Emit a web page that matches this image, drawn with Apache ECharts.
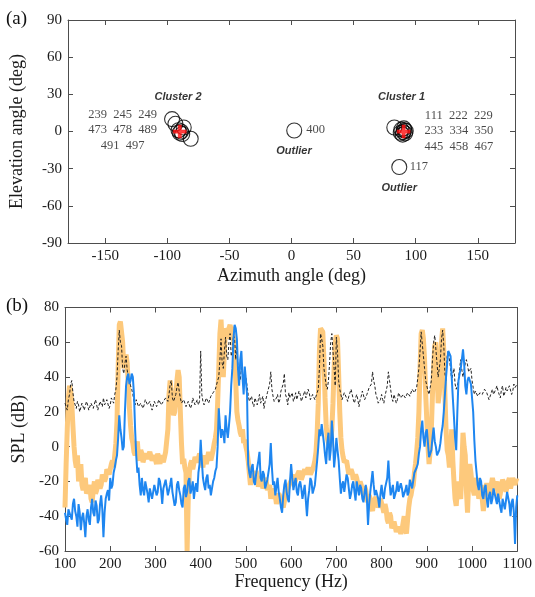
<!DOCTYPE html>
<html>
<head>
<meta charset="utf-8">
<script src="https://cdn.jsdelivr.net/npm/echarts@6/dist/echarts.min.js"></script>
<style>
  html, body { margin: 0; padding: 0; background: #fff; }
  #chart { width: 535px; height: 597px; }
</style>
</head>
<body>
<div id="chart"></div>
<script>
// ---------- (a) source directions ----------
const cluster1Points = [[82.8, 3.2], [88.5, 1.5], [90.5, 2.5], [91.5, -1.5], [89.5, -2.5], [92.0, 0.5], [90.0, -0.5], [88.0, -1.0], [91.0, 1.0]];
const cluster2Points = [[-96.2, 10.0], [-93.5, 6.2], [-91.0, 1.0], [-90.0, -1.0], [-88.0, -2.0], [-86.8, 3.2], [-89.0, 0.0], [-81.2, -5.9]];
const outlierPoints = [[2.2, 0.8], [86.8, -28.7]];
const clusterCentres = [[-90.0, 0.0], [90.3, 0.0]];

const clusterNames = ['Cluster 2', 'Cluster 1', 'Outlier', 'Outlier'];
const clusterNamePos = [[-91.4, 28.2], [88.6, 28.0], [2.0, -16.0], [86.8, -45.6]];
const memberLists = ['239  245  249\n473  478  489\n491  497', '111  222  229\n233  334  350\n445  458  467', '400', '117'];
const memberListPos = [[-136, 1.4], [134.7, 0.5], [19.5, 1.4], [102.5, -28.5]];

const azimuthTicks = [-150, -100, -50, 0, 50, 100, 150];

// ---------- (b) spectra, 100-1100 Hz ----------
const freqHz = [
  100,102.5,105,107.5,110,112.5,115,117.5,120,122.5,125,127.5,130,132.5,135,137.5,140,142.5,145,147.5,
  150,152.5,155,157.5,160,162.5,165,167.5,170,172.5,175,177.5,180,182.5,185,187.5,190,192.5,195,197.5,
  200,202.5,205,207.5,210,212.5,215,217.5,220,222.5,225,227.5,230,232.5,235,237.5,240,242.5,245,247.5,
  250,252.5,255,257.5,260,262.5,265,267.5,270,272.5,275,277.5,280,282.5,285,287.5,290,292.5,295,297.5,
  300,302.5,305,307.5,310,312.5,315,317.5,320,322.5,325,327.5,330,332.5,335,337.5,340,342.5,345,347.5,
  350,352.5,355,357.5,360,362.5,365,367.5,370,372.5,375,377.5,380,382.5,385,387.5,390,392.5,395,397.5,
  400,402.5,405,407.5,410,412.5,415,417.5,420,422.5,425,427.5,430,432.5,435,437.5,440,442.5,445,447.5,
  450,452.5,455,457.5,460,462.5,465,467.5,470,472.5,475,477.5,480,482.5,485,487.5,490,492.5,495,497.5,
  500,502.5,505,507.5,510,512.5,515,517.5,520,522.5,525,527.5,530,532.5,535,537.5,540,542.5,545,547.5,
  550,552.5,555,557.5,560,562.5,565,567.5,570,572.5,575,577.5,580,582.5,585,587.5,590,592.5,595,597.5,
  600,602.5,605,607.5,610,612.5,615,617.5,620,622.5,625,627.5,630,632.5,635,637.5,640,642.5,645,647.5,
  650,652.5,655,657.5,660,662.5,665,667.5,670,672.5,675,677.5,680,682.5,685,687.5,690,692.5,695,697.5,
  700,702.5,705,707.5,710,712.5,715,717.5,720,722.5,725,727.5,730,732.5,735,737.5,740,742.5,745,747.5,
  750,752.5,755,757.5,760,762.5,765,767.5,770,772.5,775,777.5,780,782.5,785,787.5,790,792.5,795,797.5,
  800,802.5,805,807.5,810,812.5,815,817.5,820,822.5,825,827.5,830,832.5,835,837.5,840,842.5,845,847.5,
  850,852.5,855,857.5,860,862.5,865,867.5,870,872.5,875,877.5,880,882.5,885,887.5,890,892.5,895,897.5,
  900,902.5,905,907.5,910,912.5,915,917.5,920,922.5,925,927.5,930,932.5,935,937.5,940,942.5,945,947.5,
  950,952.5,955,957.5,960,962.5,965,967.5,970,972.5,975,977.5,980,982.5,985,987.5,990,992.5,995,997.5,
  1000,1002.5,1005,1007.5,1010,1012.5,1015,1017.5,1020,1022.5,1025,1027.5,1030,1032.5,1035,1037.5,1040,1042.5,1045,1047.5,
  1050,1052.5,1055,1057.5,1060,1062.5,1065,1067.5,1070,1072.5,1075,1077.5,1080,1082.5,1085,1087.5,1090,1092.5,1095,1097.5,
  1100
];

// background noise level (dashed)
const splBackground = [
  25,23,21,27,30,36,38,31,26,24,22,26,24,20,21,25,25,21,22,26,
  24,21,20,25,25,22,23,27,27,21,22,26,25,23,28,24,23,27,26,22,
  24,28,27,25,30,33,40,55,67,60,58,45,42,48,52,44,40,38,35,33,
  30,26,24,27,27,23,22,25,26,22,24,27,27,24,23,26,25,21,22,26,
  26,23,24,27,27,24,23,26,25,28,28,26,30,36,38,28,26,27,30,34,
  37,32,28,25,24,27,27,23,23,26,26,22,24,28,27,24,25,27,24,26,
  55,30,26,24,24,28,28,25,25,29,29,31,30,33,34,38,40,50,62,48,
  45,55,63,52,50,60,65,52,55,64,62,50,58,45,40,38,46,42,38,44,
  44,35,30,26,27,29,25,23,28,26,24,27,30,25,26,29,22,26,28,31,
  32,36,43,33,29,26,25,28,30,25,27,32,33,36,42,30,28,24,31,28,
  29,31,26,28,31,27,28,32,30,26,27,30,32,28,29,33,31,27,28,30,
  30,27,29,31,33,45,65,62,58,45,40,35,33,38,48,60,65,55,45,35,
  63,55,38,33,30,27,28,31,31,28,26,29,29,33,32,27,25,28,30,27,
  23,27,29,32,31,27,26,30,30,34,33,36,43,38,35,30,28,25,24,27,
  30,27,25,29,29,35,43,38,33,28,26,30,29,25,27,31,31,28,28,30,
  30,28,29,31,32,29,30,33,33,31,31,34,35,45,55,66,66,52,45,38,
  35,32,30,34,38,50,60,64,64,48,40,45,50,62,67,58,42,38,52,55,
  55,45,38,42,45,36,33,35,38,45,50,44,40,44,48,50,47,43,42,45,
  38,34,30,32,33,29,28,31,32,30,29,33,34,31,30,27,28,31,33,30,
  31,33,35,32,30,28,33,35,29,31,34,32,31,35,35,30,32,36,34,33,
  36
];

// thick orange spectrum
const splOrange = [
  -35,-10,10,28,35,32,25,12,0,-8,-12,-5,-20,-15,-10,-22,-25,-20,-18,-27,
  -28,-24,-22,-30,-32,-25,-20,-27,-25,-19,-18,-24,-22,-16,-15,-20,-18,-13,-12,-16,
  -15,-10,-8,-12,-5,2,15,45,70,72,72,60,45,50,53,48,35,22,12,5,
  2,-3,-5,0,3,-6,-8,-2,-4,-9,-10,-4,-5,-7,-8,-3,-3,-8,-9,-5,
  -6,-10,-4,-7,-10,-5,-5,-9,-8,-3,-2,10,30,38,38,25,18,20,28,38,
  44,40,20,2,-10,-7,-12,-15,-60,-30,-15,-10,-8,-13,-12,-6,-5,-9,-10,-4,
  -3,-8,-12,-5,-6,-10,-9,-3,-4,-8,-7,-2,2,5,10,25,45,65,73,60,
  40,55,68,66,62,68,70,66,69,62,55,38,20,15,12,8,6,10,2,4,
  0,-3,-8,-15,-22,-18,-15,-20,-20,-14,-18,-23,-23,-17,-19,-24,-22,-18,-20,-25,
  -25,-22,-30,-27,-24,-30,-28,-33,-33,-27,-26,-30,-30,-35,-34,-28,-28,-24,-24,-21,
  -20,-18,-16,-21,-22,-17,-18,-14,-15,-19,-20,-15,-13,-16,-17,-12,-12,-16,-15,-13,
  -11,-8,-3,8,25,55,68,68,66,50,28,12,5,2,0,3,10,25,45,60,
  64,62,42,20,5,-2,-6,-9,-10,-8,-12,-16,-17,-13,-15,-19,-20,-16,-18,-22,
  -24,-20,-22,-26,-28,-23,-25,-30,-32,-28,-30,-35,-37,-32,-33,-29,-30,-35,-34,-30,
  -31,-35,-38,-33,-36,-42,-44,-38,-40,-47,-48,-43,-42,-49,-50,-46,-45,-50,-48,-44,
  -40,-47,-50,-42,-35,-30,-28,-24,-22,-15,-10,-3,5,20,45,65,67,62,50,30,
  15,0,-10,-2,10,30,45,58,60,45,25,30,40,60,68,55,30,10,-2,-5,
  -12,-5,10,-8,-20,-30,-34,-25,-20,-28,-30,-12,8,0,-5,-25,-38,-20,-10,-15,
  -22,-25,-28,-22,-18,-24,-30,-25,-22,-30,-37,-30,-25,-21,-20,-26,-28,-22,-18,-21,
  -25,-22,-20,-26,-30,-27,-22,-19,-18,-22,-26,-23,-20,-18,-24,-21,-18,-20,-22,-19,
  -20
];

// blue spectrum
const splBlue = [
  -38,-42,-45,-36,-35,-40,-42,-33,-30,-37,-40,-46,-33,-38,-48,-41,-38,-44,-52,-40,
  -36,-42,-45,-35,-30,-38,-40,-31,-34,-44,-42,-33,-28,-36,-52,-38,-30,-27,-25,-31,
  -18,-24,-22,-15,-12,-8,-5,5,18,10,5,-2,0,20,35,40,42,36,38,42,
  40,30,10,-5,-15,-12,-22,-28,-18,-25,-28,-20,-20,-27,-32,-24,-24,-30,-30,-22,
  -22,-28,-26,-18,-20,-25,-33,-24,-25,-19,-20,-28,-27,-22,-18,-26,-25,-34,-32,-22,
  -20,-25,-28,-33,-35,-24,-22,-29,-26,-20,-18,-27,-24,-20,-30,-24,-21,-26,-15,-10,
  4,-8,-18,-22,-25,-18,-16,-24,-22,-28,-28,-20,-18,-14,-12,0,22,12,5,10,
  8,2,18,10,5,12,20,35,45,62,70,68,62,45,35,50,55,40,30,46,
  45,30,-10,-15,-18,-12,-10,-20,-22,-16,-15,-8,-3,-18,-20,-14,-16,-24,-25,-19,
  -18,-10,2,-12,-22,-20,-28,-23,-18,-26,-30,-35,-38,-28,-22,-19,-26,-30,-32,-20,
  -10,-18,-25,-21,-18,-26,-28,-22,-20,-24,-30,-26,-22,-31,-40,-30,-25,-18,-20,-27,
  -28,-22,-15,-8,0,10,6,13,13,2,-5,-10,2,8,-8,-2,15,5,-12,-5,
  5,-2,-8,-18,-27,-22,-20,-26,-25,-16,-18,-24,-30,-27,-22,-20,-26,-31,-20,-24,
  -28,-22,-24,-30,-32,-26,-22,-30,-45,-33,-26,-20,-14,-22,-28,-25,-24,-30,-35,-27,
  -22,-28,-30,-24,-25,-18,-8,-20,-28,-25,-22,-30,-30,-25,-20,-26,-27,-21,-24,-29,
  -30,-25,-22,-28,-26,-19,-20,-24,-24,-15,-16,-12,-10,-4,0,10,15,5,0,8,
  10,2,-6,-4,-2,5,11,3,0,-5,-6,-2,2,8,12,20,30,40,48,55,
  56,52,40,28,17,5,-2,20,38,42,45,50,56,48,35,30,38,40,40,36,
  35,20,4,-8,-15,-22,-25,-18,-20,-28,-30,-24,-22,-30,-35,-28,-26,-33,-30,-24,
  -24,-30,-33,-27,-28,-35,-38,-30,-30,-36,-35,-26,-25,-33,-40,-32,-30,-38,-56,-35,
  -28
];

const freqTicks = { min: 100, max: 1100, step: 100 };
const splTicks = { min: -60, max: 80, step: 20 };

// ---------- styling ----------
const SERIF = '"Liberation Serif", "Times New Roman", serif';
const AXIS_COLOR = '#4d4d4d';
const pair = (xs, ys) => xs.map((x, i) => [x, ys[i]]);
const plainNumber = v => String(v);

function frameAxis(extra) {
  return Object.assign({
    type: 'value',
    axisLine: { show: true, onZero: false, lineStyle: { color: AXIS_COLOR, width: 1 } },
    axisTick: { show: true, inside: true, length: 5, lineStyle: { color: AXIS_COLOR } },
    axisLabel: { show: false },
    splitLine: { show: false }
  }, extra);
}
const tickLabel = { show: true, fontFamily: SERIF, fontSize: 15, color: '#1a1a1a', formatter: plainNumber };
const axisName = { fontFamily: SERIF, fontSize: 18, color: '#1a1a1a' };

const chart = echarts.init(document.getElementById('chart'), null, { renderer: 'canvas' });

const annotationLabels = clusterNames.map((t, i) => ({ value: clusterNamePos[i], name: t }));
const memberLabels = memberLists.map((t, i) => ({ value: memberListPos[i], name: t }));

chart.setOption({
  animation: false,
  backgroundColor: '#ffffff',
  grid: [
    { left: 64, right: 20, top: 20, height: 223 },
    { left: 65, right: 16, top: 307.5, height: 243.5 }
  ],
  xAxis: [
    frameAxis({
      gridIndex: 0, min: -180, max: 180, position: 'bottom',
      axisTick: { show: true, inside: true, length: 5, customValues: azimuthTicks, lineStyle: { color: AXIS_COLOR } },
      axisLabel: Object.assign({}, tickLabel, { customValues: azimuthTicks, margin: 6 }),
      name: 'Azimuth angle (deg)', nameLocation: 'middle', nameGap: 24, nameTextStyle: axisName
    }),
    frameAxis({
      gridIndex: 0, min: -180, max: 180, position: 'top',
      axisTick: { show: true, inside: true, length: 5, customValues: azimuthTicks, lineStyle: { color: AXIS_COLOR } }
    }),
    frameAxis({
      gridIndex: 1, min: freqTicks.min, max: freqTicks.max, interval: freqTicks.step, position: 'bottom',
      axisLabel: Object.assign({}, tickLabel, { margin: 6 }),
      name: 'Frequency (Hz)', nameLocation: 'middle', nameGap: 22, nameTextStyle: axisName
    }),
    frameAxis({
      gridIndex: 1, min: freqTicks.min, max: freqTicks.max, interval: freqTicks.step, position: 'top'
    })
  ],
  yAxis: [
    frameAxis({
      gridIndex: 0, min: -90, max: 90, interval: 30, position: 'left',
      axisLabel: Object.assign({}, tickLabel, { margin: 6 }),
      name: 'Elevation angle (deg)', nameLocation: 'middle', nameGap: 42, nameTextStyle: axisName
    }),
    frameAxis({ gridIndex: 0, min: -90, max: 90, interval: 30, position: 'right' }),
    frameAxis({
      gridIndex: 1, min: splTicks.min, max: splTicks.max, interval: splTicks.step, position: 'left',
      axisLabel: Object.assign({}, tickLabel, { margin: 6 }),
      name: 'SPL (dB)', nameLocation: 'middle', nameGap: 32, nameTextStyle: axisName
    }),
    frameAxis({ gridIndex: 1, min: splTicks.min, max: splTicks.max, interval: splTicks.step, position: 'right' })
  ],
  series: [
    // (a) individual detections
    {
      type: 'scatter', xAxisIndex: 0, yAxisIndex: 0, z: 3,
      data: cluster2Points.concat(cluster1Points, outlierPoints),
      symbol: 'circle', symbolSize: 15,
      itemStyle: { color: 'rgba(255,255,255,0)', borderColor: '#000', borderWidth: 1.1 }
    },
    // (a) cluster centres
    {
      type: 'scatter', xAxisIndex: 0, yAxisIndex: 0, z: 4,
      data: clusterCentres,
      symbol: 'path://M3,0H5V3H8V5H5V8H3V5H0V3H3Z', symbolSize: 13,
      itemStyle: { color: '#ff1010', borderColor: '#ff1010', borderWidth: 0.5 }
    },
    // (a) cluster / outlier names
    {
      type: 'scatter', xAxisIndex: 0, yAxisIndex: 0, z: 5,
      data: annotationLabels, symbolSize: 0,
      label: {
        show: true, position: 'inside', formatter: p => p.name,
        fontFamily: '"Liberation Sans", Arial, sans-serif', fontWeight: 'bold', fontStyle: 'italic',
        fontSize: 11, color: '#000'
      }
    },
    // (a) member indices
    {
      type: 'scatter', xAxisIndex: 0, yAxisIndex: 0, z: 5,
      data: memberLabels, symbolSize: 0,
      label: {
        show: true, position: 'inside', formatter: p => p.name, align: 'center',
        fontFamily: SERIF, fontSize: 12.5, lineHeight: 15.5, color: '#1a1a1a'
      }
    },
    // (b) spectra
    {
      type: 'line', xAxisIndex: 2, yAxisIndex: 2, z: 2,
      data: pair(freqHz, splOrange), showSymbol: false,
      lineStyle: { color: '#fdc97c', width: 5 }
    },
    {
      type: 'line', xAxisIndex: 2, yAxisIndex: 2, z: 3,
      data: pair(freqHz, splBackground), showSymbol: false,
      lineStyle: { color: '#222', width: 1, type: [3, 2] }
    },
    {
      type: 'line', xAxisIndex: 2, yAxisIndex: 2, z: 4,
      data: pair(freqHz, splBlue), showSymbol: false,
      lineStyle: { color: '#1e86f0', width: 2 }
    }
  ],
  graphic: [
    { type: 'text', left: 6, top: 10, style: { text: '(a)', font: '19px ' + SERIF, fill: '#111' } },
    { type: 'text', left: 6, top: 297, style: { text: '(b)', font: '19px ' + SERIF, fill: '#111' } }
  ]
});
</script>
</body>
</html>
